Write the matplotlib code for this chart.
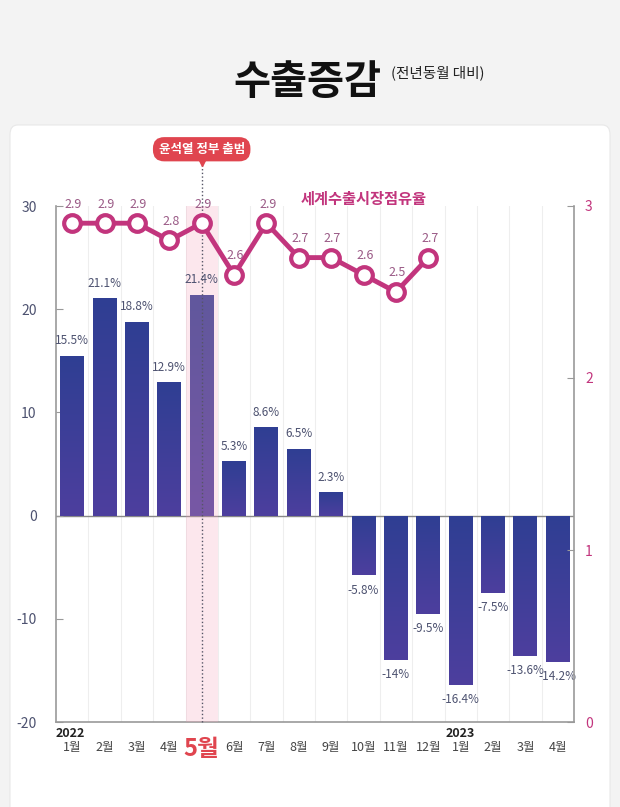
import matplotlib
matplotlib.use("Agg")
import matplotlib.pyplot as plt
import numpy as np
from matplotlib.patches import FancyBboxPatch
from matplotlib.colors import LinearSegmentedColormap
import matplotlib.transforms as mtransforms

plt.rcParams['font.family'] = ['Noto Sans CJK KR', 'DejaVu Sans']

months = ['1월', '2월', '3월', '4월', '5월', '6월', '7월', '8월', '9월', '10월', '11월', '12월',
          '1월', '2월', '3월', '4월']
export_change = [15.5, 21.1, 18.8, 12.9, 21.4, 5.3, 8.6, 6.5, 2.3, -5.8, -14, -9.5,
                 -16.4, -7.5, -13.6, -14.2]
bar_labels = ['15.5%', '21.1%', '18.8%', '12.9%', '21.4%', '5.3%', '8.6%', '6.5%', '2.3%',
              '-5.8%', '-14%', '-9.5%', '-16.4%', '-7.5%', '-13.6%', '-14.2%']
share = [2.9, 2.9, 2.9, 2.8, 2.9, 2.6, 2.9, 2.7, 2.7, 2.6, 2.5, 2.7]
left_ticks = [-20, -10, 0, 10, 20, 30]
right_ticks = [0, 1, 2, 3]

line_color = '#c2357d'
axis_text = '#4d5270'

fig = plt.figure(figsize=(6.2, 8.07), dpi=100)
fig.patch.set_facecolor('#f3f3f3')

# white card
card = FancyBboxPatch((10 / 620, -0.05), 600 / 620, (807 - 125) / 807 + 0.05,
                      boxstyle="round,pad=0,rounding_size=0.012",
                      transform=fig.transFigure, facecolor='white', edgecolor='#e8e8e8',
                      linewidth=0.8, zorder=-10)
fig.patches.append(card)

fig.text(0.377, 0.898, '수출증감', fontsize=29, fontweight='bold', color='#111111',
         ha='left', va='center')
fig.text(0.630, 0.910, '(전년동월 대비)', fontsize=10.5, color='#222222', ha='left', va='center')

ax = fig.add_axes([56 / 620, 85 / 807, 518 / 620, 516 / 807])
ax.set_facecolor('none')
x = np.arange(len(export_change))

# slot separators
for b in x[:-1] + 0.5:
    ax.axvline(b, color='#eeeeee', lw=0.8, zorder=0)
ax.axvspan(3.5, 4.5, color='#f7a3bb', alpha=0.25, zorder=3, lw=0)
ax.axhline(0, color='#888888', lw=1.0, zorder=1)

cmap = LinearSegmentedColormap.from_list('bar', ['#2f3e93', '#4d3f9e'])
bars = ax.bar(x, export_change, width=0.74, color='#3d3f99', zorder=2)
grad = np.linspace(0, 1, 100).reshape(-1, 1)
for rect in bars:
    x0 = rect.get_x()
    w = rect.get_width()
    h = rect.get_height()
    y_lo, y_hi = min(0, h), max(0, h)
    im = ax.imshow(grad, cmap=cmap, aspect='auto', extent=(x0, x0 + w, y_lo, y_hi),
                   origin='upper', zorder=2.5)
    im.set_clip_path(rect)
ax.set_xlim(-0.5, len(export_change) - 0.5)
ax.set_ylim(-20, 30)

for xi, v, lab in zip(x, export_change, bar_labels):
    off = 6 if v > 0 else -6
    ax.annotate(lab, (xi, v), xytext=(0, off), textcoords='offset points',
                ha='center', va='bottom' if v > 0 else 'top', fontsize=8.5, color=axis_text, zorder=4)

ax.set_yticks(left_ticks)
ax.set_yticklabels([str(t) for t in left_ticks])
ax.tick_params(axis='y', direction='in', length=5, color='#999999', labelcolor=axis_text,
               labelsize=10, pad=14)
ax.set_xticks([])
for s in ['top', 'right']:
    ax.spines[s].set_visible(False)
for s in ['left', 'bottom']:
    ax.spines[s].set_color('#999999')
    ax.spines[s].set_linewidth(1.2)

# month labels
trans = mtransforms.blended_transform_factory(ax.transData, ax.transAxes)
for xi, m in zip(x, months):
    if m == '5월' and xi == 4:
        ax.text(xi, -0.052, m, transform=trans, ha='center', va='center', fontsize=17,
                fontweight='bold', color='#e0454f')
    else:
        ax.text(xi, -0.05, m, transform=trans, ha='center', va='center', fontsize=9,
                color='#444444')
ax.text(-0.5, -0.022, '2022', transform=trans, ha='left', va='center', fontsize=9,
        fontweight='bold', color='#222222')
ax.text(12, -0.022, '2023', transform=trans, ha='center', va='center', fontsize=9,
        fontweight='bold', color='#222222')

# right axis: market share
ax2 = ax.twinx()
ax2.set_ylim(0, 3)
ax2.set_yticks(right_ticks)
ax2.set_yticklabels([str(t) for t in right_ticks])
ax2.tick_params(axis='y', direction='in', length=5, color='#999999', labelcolor=line_color,
                labelsize=10, pad=8)
for s in ['top', 'left', 'bottom']:
    ax2.spines[s].set_visible(False)
ax2.spines['right'].set_color('#999999')
ax2.spines['right'].set_linewidth(1.2)

xs = x[:len(share)]
ax2.plot(xs, share, color=line_color, lw=3.5, marker='o', markersize=12,
         markerfacecolor='white', markeredgecolor=line_color, markeredgewidth=3, zorder=5)
for xi, v in zip(xs, share):
    ax2.annotate(f'{v}', (xi, v), xytext=(1, 9), textcoords='offset points', ha='center',
                 va='bottom', fontsize=9, color='#9a5a86', zorder=6)
ax2.text(9, 3.04, '세계수출시장점유율', ha='center', va='center', fontsize=11,
         fontweight='bold', color=line_color)

# inauguration marker
ax2.plot([4, 4], [0, 3.3], ls=':', color='#555566', lw=1, zorder=4, clip_on=False)
ax2.text(4, 3.33, '윤석열 정부 출범', ha='center', va='center', fontsize=9, fontweight='bold',
         color='white', zorder=7,
         bbox=dict(boxstyle='round,pad=0.45,rounding_size=0.9', facecolor='#e0454f',
                   edgecolor='none'))
ax2.plot(4, 3.255, marker='v', markersize=6, color='#e0454f', clip_on=False, zorder=7)
ax2.set_zorder(ax.get_zorder() + 1)
ax2.patch.set_visible(False)

fig.savefig('out.png', dpi=100, facecolor=fig.get_facecolor())
